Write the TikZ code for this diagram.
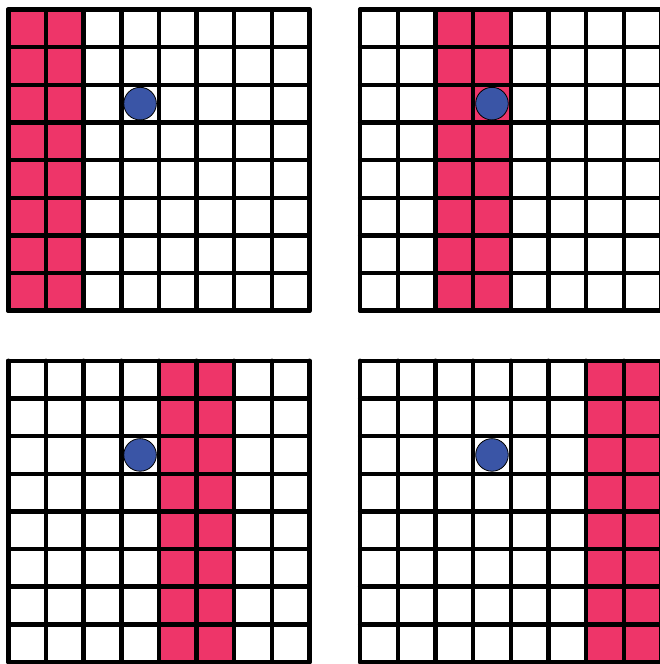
\documentclass[tikz,border=0pt]{standalone}
\definecolor{pinkc}{HTML}{EE3569}
\definecolor{bluec}{HTML}{3A55A6}
\begin{document}
\begin{tikzpicture}[x=1pt,y=-1pt,gridline/.style={line width=4.5pt,line cap=round,black}]
\useasboundingbox (0,0) rectangle (660,664);
\clip (0,0) rectangle (660,664);
\fill[white] (0,0) rectangle (660,664);
\def\p{37.65}
\foreach \gx/\gy/\pc in {8.3/9.5/0, 360.2/9.5/2, 8.3/360.8/4, 360.2/360.8/6} {
  \fill[pinkc] (\gx+\pc*\p,\gy) rectangle ++(2*\p,8*\p);
  \foreach \i in {0,...,8} {
    \draw[gridline] (\gx+\i*\p,\gy) -- ++(0,8*\p);
    \draw[gridline] (\gx,\gy+\i*\p) -- ++(8*\p,0);
  }
  \filldraw[fill=bluec,draw=black,line width=0.8pt] (\gx+3.5*\p,\gy+2.5*\p) circle[radius=16.3pt];
}
\end{tikzpicture}
\end{document}
